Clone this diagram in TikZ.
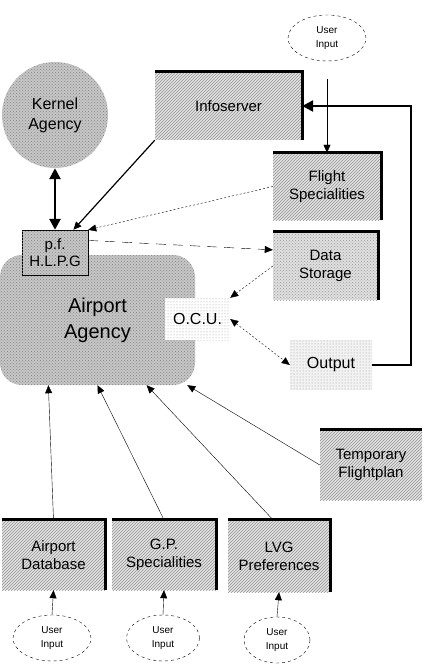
\documentclass[tikz,border=0pt]{standalone}
\usepackage{fontspec}
\setmainfont{Liberation Sans}
\usetikzlibrary{arrows.meta,patterns,shapes.geometric}

\tikzset{
  userin/.style={ellipse, draw, dash pattern=on 3pt off 3pt, inner sep=0pt,
    minimum width=78pt, minimum height=46pt, align=center,
    font=\fontsize{10}{14}\selectfont},
  hatchbox/.style={fill=gray!22, postaction={pattern=north east lines, pattern color=gray!85},
    inner sep=0pt, align=center},
  checker/.style={fill=gray!45, postaction={pattern=crosshatch dots, pattern color=gray!95},
    inner sep=0pt, align=center},
  thickline/.style={line width=3pt},
  bigarrow/.style={line width=2.5pt, -{Triangle[length=11pt,width=11pt]}},
}

\begin{document}
\begin{tikzpicture}[x=1pt, y=-1pt, >={Triangle[length=8pt,width=7pt]},
    font=\fontsize{15}{18}\selectfont]
  \useasboundingbox (0,0) rectangle (427,668);

  % agencies
  \node[checker, rectangle, rounded corners=22pt, minimum width=195pt, minimum height=130pt,
    font=\fontsize{20}{26}\selectfont] (airport) at (97.5,320) {Airport\\Agency};
  \node[checker, circle, minimum size=106pt, font=\fontsize{16}{20}\selectfont] (kernel) at (55,115) {Kernel\\Agency};
  \node[checker, draw, minimum width=66pt, minimum height=45pt,
    font=\fontsize{15}{17}\selectfont] (pf) at (55,252.5) {p.f.\\H.L.P.G};
  \node[fill=white, postaction={pattern=dots, pattern color=gray!80}, inner sep=0pt,
    minimum width=65pt, minimum height=42pt, font=\fontsize{16}{18}\selectfont] (ocu) at (197.5,319) {O.C.U.};

  % boxes
  \node[hatchbox, minimum width=147pt, minimum height=68pt] (info) at (228.5,106) {Infoserver};
  \node[hatchbox, minimum width=108pt, minimum height=67pt] (flight) at (327,186.5) {Flight\\Specialities};
  \node[fill=gray!25, postaction={pattern=crosshatch dots, pattern color=gray!80}, inner sep=0pt,
    align=center, minimum width=105pt, minimum height=68pt] (data) at (325.5,266) {Data\\Storage};
  \node[fill=gray!10, postaction={pattern=dots, pattern color=gray!80}, inner sep=0pt,
    minimum width=82pt, minimum height=50pt, font=\fontsize{16}{18}\selectfont] (output) at (331,365) {Output};
  \node[hatchbox, minimum width=102pt, minimum height=70pt] (temp) at (371,465) {Temporary\\Flightplan};
  \node[hatchbox, minimum width=103pt, minimum height=70pt] (adb) at (53.5,555) {Airport\\Database};
  \node[hatchbox, minimum width=104pt, minimum height=70pt] (gps) at (164,555) {G.P.\\Specialities};
  \node[hatchbox, minimum width=102pt, minimum height=72pt] (lvg) at (279,556) {LVG\\Preferences};
  \foreach \b in {info,flight,data,adb,gps,lvg}
    \draw[thickline] (\b.north west) -- (\b.north east) -- (\b.south east);
  \draw[thickline] (temp.north west) -- (temp.north east);

  % user input
  \node[userin] (uitop) at (327,38) {User\\Input};
  \node[userin] (ui1) at (52,638) {User\\Input};
  \node[userin, minimum width=73pt] (ui2) at (163,638) {User\\Input};
  \node[userin, minimum width=66pt] (ui3) at (277,640) {User\\Input};

  % connectors
  \draw[->, shorten <=18pt] (uitop.south) -- (flight.north);
  \draw[bigarrow] (output.east) -- ++(39,0) |- (info.east);
  \draw[line width=2.5pt, {Triangle[length=11pt,width=11pt]}-{Triangle[length=11pt,width=11pt]}]
    (kernel.south) -- (pf.north);
  \draw[line width=1.2pt, ->] (info.south west) -- (pf.51);
  \draw[->, dash pattern=on 2pt off 2pt] (flight.west) -- (pf.north east);
  \draw[->, dash pattern=on 10pt off 7pt] (pf.20) -- (data.163);
  \draw[->, dash pattern=on 2pt off 2pt] (data.west) -- (ocu.north east);
  \draw[<->, dash pattern=on 2pt off 2pt] (ocu.east) -- (output.west);
  \draw[->] (adb.north) -- (airport.233);
  \draw[->] (gps.north) -- (airport.south);
  \draw[->] ([xshift=-6pt]lvg.north) -- (airport.307);
  \draw[->] (temp.west) -- (airport.324);
  \draw[->] (ui1.north) -- (adb.south);
  \draw[->] (ui2.north) -- (gps.south);
  \draw[->] (ui3.north) -- (lvg.south);
\end{tikzpicture}
\end{document}
